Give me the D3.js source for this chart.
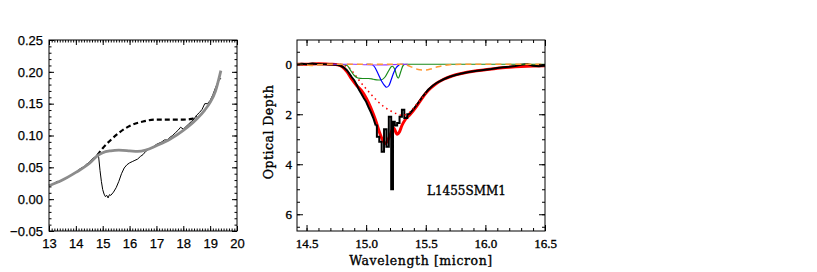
<!DOCTYPE html>
<html lang="en">
<head>
<meta charset="utf-8">
<style>
  body { margin: 0; background: #fff; }
  svg { display: block; }
</style>
<title>L1455SMM1</title>
</head>
<body>
<div id="chart"></div>
<script src="https://d3js.org/d3.v7.min.js"></script>
<script>
// ---------- left panel: spectrum + continua ----------
const contWave = [13.0, 13.5, 14.0, 14.5, 14.8, 15.0, 15.3, 15.6, 16.0, 16.3, 16.6, 17.0, 17.5, 18.0, 18.5, 18.8, 19.0, 19.2, 19.4];
const contFlux = [0.021, 0.030, 0.042, 0.056, 0.068, 0.073, 0.076, 0.077, 0.076, 0.075, 0.077, 0.084, 0.094, 0.108, 0.126, 0.140, 0.152, 0.170, 0.202];

const dashWave = [14.8, 15.0, 15.3, 15.6, 16.0, 16.5, 17.0, 17.5, 18.0, 18.3, 18.5];
const dashFlux = [0.069, 0.080, 0.093, 0.104, 0.115, 0.122, 0.125, 0.125, 0.125, 0.126, 0.130];

const specWave = [13.0, 13.1, 13.2, 13.3, 13.4, 13.5, 13.6, 13.7, 13.8, 13.9, 14.0, 14.1, 14.2, 14.3, 14.4, 14.5, 14.6, 14.7, 14.8,
  14.85, 14.9, 14.95, 15.0, 15.05, 15.1, 15.15, 15.2, 15.25, 15.3, 15.4, 15.5, 15.6, 15.7, 15.8, 15.9, 16.0, 16.1, 16.2, 16.3, 16.4,
  16.5, 16.6, 16.7, 16.8, 16.9, 17.0, 17.1, 17.2, 17.3, 17.4, 17.5, 17.6, 17.7, 17.8, 17.9, 18.0, 18.1, 18.2, 18.3, 18.4, 18.5,
  18.6, 18.7, 18.8, 18.9, 19.0, 19.1, 19.2, 19.3, 19.4];
const specFlux = [0.021, 0.022, 0.025, 0.028, 0.027, 0.030, 0.032, 0.034, 0.037, 0.040, 0.042, 0.046, 0.049, 0.051, 0.055, 0.058, 0.063, 0.066, 0.070,
  0.066, 0.045, 0.028, 0.015, 0.008, 0.004, 0.006, 0.002, 0.007, 0.006, 0.011, 0.018, 0.028, 0.040, 0.049, 0.054, 0.057, 0.059, 0.061, 0.063, 0.067,
  0.070, 0.075, 0.078, 0.080, 0.083, 0.086, 0.088, 0.090, 0.093, 0.093, 0.097, 0.100, 0.104, 0.108, 0.113, 0.110, 0.114, 0.118, 0.122, 0.126, 0.132,
  0.136, 0.141, 0.150, 0.150, 0.155, 0.164, 0.175, 0.185, 0.190];

// ---------- right panel: optical depth + fit components ----------
// observed optical depth, smooth wings
const tauWave = [14.42, 14.46, 14.50, 14.55, 14.60, 14.65, 14.70, 14.75, 14.78, 14.81, 14.84, 14.86, 14.88, 14.90, 14.92, 14.94, 14.96, 14.98,
  15.00, 15.02, 15.04, 15.06, 15.08,
  15.36, 15.40, 15.44, 15.48, 15.52, 15.56, 15.60, 15.65, 15.70, 15.75, 15.80, 15.85, 15.90, 15.95, 16.00, 16.05, 16.10, 16.15, 16.20, 16.25,
  16.30, 16.35, 16.40, 16.45, 16.50];
const tauObs = [0.0, -0.02, 0.0, -0.03, 0.0, 0.0, 0.01, 0.02, 0.05, 0.12, 0.25, 0.38, 0.52, 0.64, 0.82, 1.02, 1.18, 1.35,
  1.5, 1.72, 1.92, 2.15, 2.45,
  2.0, 1.78, 1.52, 1.25, 1.02, 0.85, 0.72, 0.6, 0.5, 0.43, 0.37, 0.32, 0.28, 0.25, 0.22, 0.19, 0.15, 0.12, 0.1, 0.07,
  0.02, -0.01, 0.06, 0.08, 0.05];
// observed optical depth, noisy core (drawn as histogram steps)
const coreWave = [15.08, 15.10, 15.12, 15.14, 15.16, 15.18, 15.20, 15.22, 15.23, 15.25, 15.27, 15.29, 15.31, 15.33, 15.36];
const coreObs = [2.45, 2.9, 3.1, 3.5, 2.6, 3.3, 2.1, 5.0, 2.3, 2.45, 2.35, 2.1, 1.82, 2.15, 2.0];

const modelWave = [14.42, 14.5, 14.6, 14.7, 14.76, 14.80, 14.84, 14.88, 14.92, 14.96, 15.00, 15.04, 15.08, 15.11, 15.14, 15.16, 15.18,
  15.20, 15.23, 15.26, 15.28, 15.30, 15.33, 15.37, 15.42, 15.47, 15.52, 15.58, 15.65, 15.72, 15.80, 15.90, 16.00, 16.10, 16.20, 16.30, 16.40, 16.50];
const modelTau = [0.0, 0.0, -0.02, 0.0, 0.02, 0.1, 0.3, 0.6, 0.85, 1.05, 1.35, 1.75, 2.25, 2.7, 3.05, 3.18, 3.05,
  2.85, 2.55, 2.8, 2.7, 2.45, 2.2, 2.0, 1.7, 1.35, 1.05, 0.8, 0.6, 0.47, 0.37, 0.28, 0.22, 0.16, 0.12, 0.09, 0.07, 0.06];

const broadWave = [14.78, 14.82, 14.86, 14.90, 14.95, 15.00, 15.05, 15.10, 15.15, 15.20, 15.25, 15.30, 15.34, 15.38, 15.42, 15.46, 15.50];
const broadTau = [0.0, 0.05, 0.15, 0.38, 0.7, 0.98, 1.25, 1.5, 1.7, 1.85, 1.97, 2.04, 2.0, 1.85, 1.62, 1.4, 1.15];

const blueWave = [15.00, 15.04, 15.07, 15.10, 15.13, 15.16, 15.17, 15.19, 15.21, 15.23, 15.25, 15.27, 15.29, 15.32];
const blueTau = [0.0, 0.0, 0.1, 0.38, 0.68, 0.88, 0.92, 0.86, 0.62, 0.35, 0.15, 0.05, 0.0, 0.0];

const greenWave = [14.78, 14.84, 14.87, 14.90, 14.93, 14.97, 15.02, 15.06, 15.10, 15.13, 15.16, 15.19, 15.21, 15.22, 15.24, 15.26,
  15.27, 15.29, 15.31, 15.33, 16.50];
const greenTau = [0.0, 0.05, 0.25, 0.45, 0.55, 0.57, 0.57, 0.6, 0.63, 0.62, 0.5, 0.25, 0.1, 0.08, 0.2, 0.5, 0.55, 0.3, 0.05, 0.0, 0.0];

const orangeWave = [14.42, 14.50, 14.55, 14.60, 14.70, 15.30, 15.35, 15.40, 15.45, 15.50, 15.55, 15.60, 15.65, 15.70, 15.80, 16.50];
const orangeTau = [0.0, 0.03, 0.05, 0.02, 0.0, 0.0, 0.05, 0.15, 0.22, 0.23, 0.18, 0.1, 0.05, 0.02, 0.0, 0.0];

const purpleWave = [14.72, 14.90, 15.00, 15.10, 15.20, 15.35];
const purpleTau = [0.0, 0.0, 0.02, 0.03, 0.02, 0.0];

const leftXTicks = [13, 14, 15, 16, 17, 18, 19, 20];
const leftYTicks = [-0.05, 0.00, 0.05, 0.10, 0.15, 0.20, 0.25];
const rightXTicks = [14.5, 15.0, 15.5, 16.0, 16.5];
const rightYTicks = [0, 2, 4, 6];

const W = 817, H = 272;
const svg = d3.select("#chart").append("svg")
  .attr("width", W).attr("height", H);
svg.append("rect").attr("width", W).attr("height", H).attr("fill", "#fff");

function zip(xs, ys) { return xs.map(function(x, i) { return [x, ys[i]]; }); }

function range(a, b, s) {
  const out = [];
  const n = Math.round((b - a) / s);
  for (let i = 0; i <= n; i++) out.push(+(a + i * s).toFixed(4));
  return out;
}

// frame with inward ticks on all four sides
function frame(g, x, y, opt) {
  const x0 = Math.min.apply(null, x.range()), x1 = Math.max.apply(null, x.range());
  const y0 = Math.min.apply(null, y.range()), y1 = Math.max.apply(null, y.range());
  const w = x1 - x0, h = y1 - y0;

  const sides = [
    {axis: d3.axisBottom, sc: x, tr: [0, y1], ticks: opt.xMajor, minor: opt.xMinor, lab: true},
    {axis: d3.axisTop, sc: x, tr: [0, y0], ticks: opt.xMajor, minor: opt.xMinor, lab: false},
    {axis: d3.axisLeft, sc: y, tr: [x0, 0], ticks: opt.yMajor, minor: opt.yMinor, lab: true},
    {axis: d3.axisRight, sc: y, tr: [x1, 0], ticks: opt.yMajor, minor: opt.yMinor, lab: false}
  ];
  sides.forEach(function(s) {
    const minorAx = s.axis(s.sc).tickValues(s.minor).tickSize(-opt.minorLen).tickFormat("");
    g.append("g").attr("transform", "translate(" + s.tr + ")").call(minorAx)
      .call(function(a) { a.select(".domain").remove(); });
    const isX = (s.sc === x);
    const majorAx = s.axis(s.sc).tickValues(s.ticks).tickSize(-opt.majorLen)
      .tickPadding(isX ? opt.xPad : opt.yPad)
      .tickFormat(s.lab ? (isX ? opt.xFmt : opt.yFmt) : "");
    const ga = g.append("g").attr("transform", "translate(" + s.tr + ")").call(majorAx);
    ga.select(".domain").remove();
    ga.selectAll("text").attr("font-family", opt.font).attr("font-size", opt.fontSize).attr("fill", "#000")
      .attr("stroke", "#000").attr("stroke-width", opt.bold);
  });
  g.selectAll(".tick line").attr("stroke", "#000").attr("stroke-width", 1);
  g.append("rect").attr("x", x0).attr("y", y0).attr("width", w).attr("height", h)
    .attr("fill", "none").attr("stroke", "#000").attr("stroke-width", 1);
}

// ---------- left panel ----------
const xL = d3.scaleLinear().domain([13, 20]).range([49, 237]);
const yL = d3.scaleLinear().domain([-0.05, 0.25]).range([231, 40]);
const gL = svg.append("g");

const lineL = d3.line().x(function(d) { return xL(d[0]); }).y(function(d) { return yL(d[1]); });

gL.append("path").datum(zip(dashWave, dashFlux)).attr("d", lineL.curve(d3.curveMonotoneX))
  .attr("fill", "none").attr("stroke", "#000").attr("stroke-width", 2.2).attr("stroke-dasharray", "5,3");
gL.append("path").datum(zip(specWave, specFlux)).attr("d", lineL.curve(d3.curveLinear))
  .attr("fill", "none").attr("stroke", "#000").attr("stroke-width", 1);
gL.append("path").datum(zip(contWave, contFlux)).attr("d", lineL.curve(d3.curveMonotoneX))
  .attr("fill", "none").attr("stroke", "#8c8c8c").attr("stroke-width", 2.8);

frame(gL, xL, yL, {
  xMajor: leftXTicks, xMinor: range(13, 20, 0.1),
  yMajor: leftYTicks, yMinor: range(-0.05, 0.25, 0.01),
  majorLen: 5, minorLen: 2.5, xPad: 8, yPad: 6,
  xFmt: d3.format("d"), yFmt: function(d) { return d < 0 ? "\u2212" + d3.format(".2f")(-d) : d3.format(".2f")(d); },
  font: "'Liberation Sans', Arial, sans-serif", fontSize: 13, bold: 0.25
});

// ---------- right panel ----------
const xR = d3.scaleLinear().domain([14.42, 16.5]).range([297, 545]);
const yR = d3.scaleLinear().domain([-0.97, 6.67]).range([40, 231]);
const gR = svg.append("g");
const lineR = d3.line().x(function(d) { return xR(d[0]); }).y(function(d) { return yR(d[1]); });

gR.append("path").datum(zip(modelWave, modelTau)).attr("d", lineR.curve(d3.curveMonotoneX))
  .attr("fill", "none").attr("stroke", "#ff0000").attr("stroke-width", 3);
gR.append("path").datum(zip(tauWave.slice(0, 23), tauObs.slice(0, 23))).attr("d", lineR.curve(d3.curveLinear))
  .attr("fill", "none").attr("stroke", "#000").attr("stroke-width", 2);
gR.append("path").datum(zip(coreWave, coreObs)).attr("d", lineR.curve(d3.curveStep))
  .attr("fill", "none").attr("stroke", "#000").attr("stroke-width", 2);
gR.append("path").datum(zip(tauWave.slice(23), tauObs.slice(23))).attr("d", lineR.curve(d3.curveLinear))
  .attr("fill", "none").attr("stroke", "#000").attr("stroke-width", 2);
gR.append("path").datum(zip(broadWave, broadTau)).attr("d", lineR.curve(d3.curveMonotoneX))
  .attr("fill", "none").attr("stroke", "#ff0000").attr("stroke-width", 1.5).attr("stroke-dasharray", "1.5,3.5");
gR.append("path").datum(zip(greenWave, greenTau)).attr("d", lineR.curve(d3.curveMonotoneX))
  .attr("fill", "none").attr("stroke", "#1a8c1a").attr("stroke-width", 1.2);
gR.append("path").datum(zip(blueWave, blueTau)).attr("d", lineR.curve(d3.curveMonotoneX))
  .attr("fill", "none").attr("stroke", "#0000ff").attr("stroke-width", 1.2);
gR.append("path").datum(zip(purpleWave, purpleTau)).attr("d", lineR.curve(d3.curveMonotoneX))
  .attr("fill", "none").attr("stroke", "#9933ff").attr("stroke-width", 1.2);
gR.append("path").datum(zip(orangeWave, orangeTau)).attr("d", lineR.curve(d3.curveMonotoneX))
  .attr("fill", "none").attr("stroke", "#ff9933").attr("stroke-width", 1.5).attr("stroke-dasharray", "6,4");

const serif = "'DejaVu Serif', 'Liberation Serif', serif";
frame(gR, xR, yR, {
  xMajor: rightXTicks, xMinor: range(14.5, 16.5, 0.1),
  yMajor: rightYTicks, yMinor: range(-0.5, 6.5, 0.5),
  majorLen: 6, minorLen: 3, xPad: 8, yPad: 5,
  xFmt: d3.format(".1f"), yFmt: d3.format("d"),
  font: "'Liberation Serif', 'DejaVu Serif', serif", fontSize: 13, bold: 0.35
});

gR.append("text").attr("x", 421).attr("y", 265).attr("text-anchor", "middle")
  .attr("font-family", serif).attr("font-size", 12.5).attr("letter-spacing", 0.6)
  .attr("stroke", "#000").attr("stroke-width", 0.35).text("Wavelength [micron]");
gR.append("text").attr("transform", "translate(273,132) rotate(-90)").attr("text-anchor", "middle")
  .attr("font-family", serif).attr("font-size", 12.5).attr("letter-spacing", 0.5)
  .attr("stroke", "#000").attr("stroke-width", 0.35).text("Optical Depth");
gR.append("text").attr("x", 427).attr("y", 195)
  .attr("font-family", serif).attr("font-size", 12)
  .attr("stroke", "#000").attr("stroke-width", 0.35).text("L1455SMM1");
</script>
</body>
</html>
